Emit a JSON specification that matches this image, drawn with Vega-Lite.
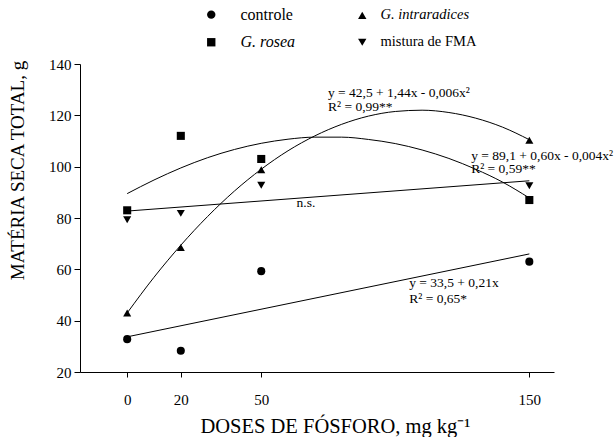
{
  "$schema": "https://vega.github.io/schema/vega-lite/v6.json",
  "autosize": {"type": "none"},
  "padding": {"left": 80, "top": 64, "right": 62, "bottom": 65},
  "width": 474,
  "height": 308,
  "background": "white",
  "config": {
    "view": {"stroke": null},
    "font": "Liberation Serif",
    "axis": {
      "domainColor": "black", "tickColor": "black", "labelColor": "black", "titleColor": "black",
      "labelFont": "Liberation Serif", "titleFont": "Liberation Serif", "titleFontWeight": "normal",
      "grid": false, "domainWidth": 1, "tickWidth": 1
    }
  },
  "datasets": {
    "points": [
      {"dose": 0, "value": 32.8, "group": "controle"},
      {"dose": 20, "value": 28.3, "group": "controle"},
      {"dose": 50, "value": 59.3, "group": "controle"},
      {"dose": 150, "value": 63.0, "group": "controle"},
      {"dose": 0, "value": 43.0, "group": "G. intraradices"},
      {"dose": 20, "value": 68.5, "group": "G. intraradices"},
      {"dose": 50, "value": 98.8, "group": "G. intraradices"},
      {"dose": 150, "value": 110.3, "group": "G. intraradices"},
      {"dose": 0, "value": 83.0, "group": "G. rosea"},
      {"dose": 20, "value": 112.0, "group": "G. rosea"},
      {"dose": 50, "value": 103.0, "group": "G. rosea"},
      {"dose": 150, "value": 87.0, "group": "G. rosea"},
      {"dose": 0, "value": 79.3, "group": "mistura de FMA"},
      {"dose": 20, "value": 81.8, "group": "mistura de FMA"},
      {"dose": 50, "value": 92.8, "group": "mistura de FMA"},
      {"dose": 150, "value": 92.6, "group": "mistura de FMA"}
    ],
    "curves": [
      {"dose": 0, "value": 33.7, "group": "controle"},
      {"dose": 150, "value": 66.0, "group": "controle"},
      {"dose": 0, "value": 82.7, "group": "mistura de FMA"},
      {"dose": 150, "value": 94.5, "group": "mistura de FMA"},
      {"dose": 0, "value": 43.0, "group": "G. intraradices"},
      {"dose": 10, "value": 56.9, "group": "G. intraradices"},
      {"dose": 20, "value": 69.4, "group": "G. intraradices"},
      {"dose": 30, "value": 80.6, "group": "G. intraradices"},
      {"dose": 40, "value": 90.5, "group": "G. intraradices"},
      {"dose": 50, "value": 99.0, "group": "G. intraradices"},
      {"dose": 60, "value": 106.2, "group": "G. intraradices"},
      {"dose": 70, "value": 112.0, "group": "G. intraradices"},
      {"dose": 80, "value": 116.5, "group": "G. intraradices"},
      {"dose": 90, "value": 119.7, "group": "G. intraradices"},
      {"dose": 100, "value": 121.5, "group": "G. intraradices"},
      {"dose": 110, "value": 122.0, "group": "G. intraradices"},
      {"dose": 120, "value": 121.1, "group": "G. intraradices"},
      {"dose": 130, "value": 118.9, "group": "G. intraradices"},
      {"dose": 140, "value": 115.4, "group": "G. intraradices"},
      {"dose": 150, "value": 110.5, "group": "G. intraradices"},
      {"dose": 0, "value": 89.5, "group": "G. rosea"},
      {"dose": 10, "value": 94.8, "group": "G. rosea"},
      {"dose": 20, "value": 99.5, "group": "G. rosea"},
      {"dose": 30, "value": 103.5, "group": "G. rosea"},
      {"dose": 40, "value": 106.7, "group": "G. rosea"},
      {"dose": 50, "value": 109.1, "group": "G. rosea"},
      {"dose": 60, "value": 110.7, "group": "G. rosea"},
      {"dose": 70, "value": 111.5, "group": "G. rosea"},
      {"dose": 80, "value": 111.5, "group": "G. rosea"},
      {"dose": 90, "value": 110.6, "group": "G. rosea"},
      {"dose": 100, "value": 109.0, "group": "G. rosea"},
      {"dose": 110, "value": 106.5, "group": "G. rosea"},
      {"dose": 120, "value": 103.2, "group": "G. rosea"},
      {"dose": 130, "value": 99.0, "group": "G. rosea"},
      {"dose": 140, "value": 94.0, "group": "G. rosea"},
      {"dose": 150, "value": 87.8, "group": "G. rosea"}
    ],
    "labels": [
      {"dose": 74.9, "value": 127.1, "text": "y = 42,5 + 1,44x - 0,006x²"},
      {"dose": 74.9, "value": 121.6, "text": "R² = 0,99**"},
      {"dose": 128.3, "value": 102.7, "text": "y = 89,1 + 0,60x - 0,004x²"},
      {"dose": 128.3, "value": 97.4, "text": "R² = 0,59**"},
      {"dose": 105.2, "value": 53.3, "text": "y = 33,5 + 0,21x"},
      {"dose": 105.2, "value": 46.9, "text": "R² = 0,65*"},
      {"dose": 63.2, "value": 84.2, "text": "n.s."}
    ]
  },
  "encoding": {
    "x": {
      "field": "dose", "type": "quantitative",
      "scale": {"domain": [-17.6, 159.2], "nice": false, "zero": false},
      "axis": {
        "values": [0, 20, 50, 150], "tickSize": 5, "labelPadding": 15, "labelFontSize": 15,
        "title": "DOSES DE FÓSFORO, mg kg⁻¹", "titleFontSize": 20.5,
        "titleX": 255, "titleY": 60, "titleBaseline": "alphabetic", "titleAnchor": null, "titleAlign": "center"
      }
    },
    "y": {
      "field": "value", "type": "quantitative",
      "scale": {"domain": [20, 140], "nice": false, "zero": false},
      "axis": {
        "values": [20, 40, 60, 80, 100, 120, 140], "tickSize": 6, "labelPadding": 3, "labelFontSize": 15,
        "title": "MATÉRIA SECA TOTAL, g", "titleFontSize": 19,
        "titleX": -57, "titleY": 106, "titleAngle": -90, "titleBaseline": "alphabetic", "titleAlign": "center"
      }
    }
  },
  "layer": [
    {
      "data": {"name": "curves"},
      "mark": {"type": "line", "color": "black", "strokeWidth": 1, "interpolate": "monotone"},
      "encoding": {"detail": {"field": "group"}}
    },
    {
      "data": {"name": "points"},
      "mark": {"type": "point", "filled": true, "color": "black", "opacity": 1, "size": 65},
      "encoding": {
        "shape": {
          "field": "group", "type": "nominal",
          "scale": {
            "domain": ["controle", "G. intraradices", "G. rosea", "mistura de FMA"],
            "range": ["circle", "triangle-up", "square", "triangle-down"]
          },
          "legend": {
            "title": null, "orient": "none", "legendX": 124, "legendY": -57,
            "direction": "horizontal", "columns": 2, "padding": 0,
            "rowPadding": 11, "columnPadding": 59,
            "symbolFillColor": "black", "symbolStrokeWidth": 0, "symbolSize": 70, "symbolOpacity": 1,
            "labelFont": "Liberation Serif", "labelColor": "black", "labelLimit": 200,
            "labelOffset": {"expr": "datum.label == 'controle' || datum.label == 'G. rosea' ? 22 : 11"},
            "labelFontSize": {"expr": "datum.label == 'controle' || datum.label == 'G. rosea' ? 16 : 14.5"},
            "labelFontStyle": {"expr": "datum.label == 'G. rosea' || datum.label == 'G. intraradices' ? 'italic' : 'normal'"}
          }
        }
      }
    },
    {
      "data": {"name": "labels"},
      "mark": {"type": "text", "align": "left", "baseline": "alphabetic", "font": "Liberation Serif", "fontSize": 13.5, "color": "black"},
      "encoding": {"text": {"field": "text"}}
    }
  ]
}
